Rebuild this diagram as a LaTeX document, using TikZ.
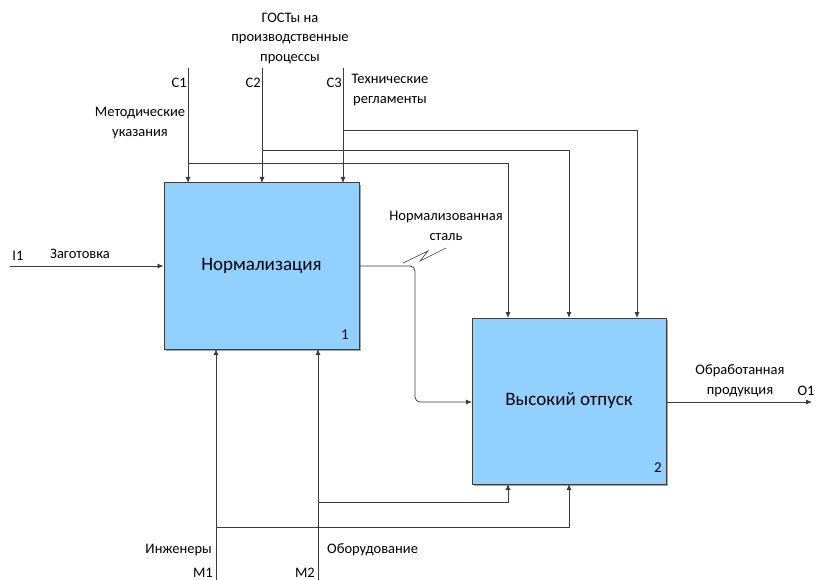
\documentclass[tikz,border=0pt]{standalone}
\usepackage{fontspec}
\setmainfont{Carlito}
\usetikzlibrary{arrows.meta}
\definecolor{boxfill}{RGB}{145,208,255}
\definecolor{linecol}{RGB}{60,60,60}
\begin{document}
\begin{tikzpicture}[x=1pt,y=-1pt,
  func/.style={draw=linecol,line width=1pt,fill=boxfill,minimum width=195pt,minimum height=166pt,inner sep=0pt,font=\fontsize{19}{21}\selectfont},
  conn/.style={draw=linecol,line width=0.8pt},
  arr/.style={conn,-{Latex[length=6pt,width=5pt]}},
  lbl/.style={font=\fontsize{14.5}{19.5}\selectfont,inner sep=0pt,align=center},
  num/.style={font=\fontsize{15}{16}\selectfont,inner sep=0pt}]
\useasboundingbox (0,0) rectangle (816,580);
% shadows
\fill[black!35] (166,185) rectangle (361,351);
\fill[black!35] (474,320) rectangle (668,486);
\node[func] (b1) at (261.5,266) {Нормализация};
\node[func,minimum width=194pt] (b2) at (569,401) {Высокий отпуск};
\node[num] (n1) at (345,335) {1};
\node[num] (n2) at (658,468) {2};
% controls
\coordinate (c1) at (188,68);
\coordinate (c2) at (262,68);
\coordinate (c3) at (343,68);
\draw[arr] (c1) -- (188,183);
\draw[arr] (c2) -- (262,183);
\draw[arr] (c3) -- (343,183);
\draw[arr] (188,163) -| (508,318);
\draw[arr] (262,150) -| (569,318);
\draw[arr] (343,130) -| (637,318);
% input
\coordinate (i1) at (10,266);
\draw[arr] (i1) -- (b1.west);
% internal
\draw[arr,rounded corners=5pt] (b1.east) -- (415,266) -- (415,402) -- (472,402);
\draw[conn,line width=0.6pt] (403,263) -- (428,251) -- (420,261) -- (446,248);
% output
\coordinate (o1) at (812,402);
\draw[arr] (666,402) -- (o1);
% mechanisms
\coordinate (m1) at (216,580);
\coordinate (m2) at (318,580);
\draw[arr] (m1) -- (216,349);
\draw[arr] (m2) -- (318,349);
\draw[arr] (216,527) -| (569,484);
\draw[arr] (318,502) -| (508,484);
% labels
\node[lbl] (t1) at (290,38) {ГОСТы на\\производственные\\процессы};
\node[lbl] (t2) at (390,90) {Технические\\регламенты};
\node[lbl] (t3) at (140,123) {Методические\\указания};
\node[lbl,anchor=east] (lc1) at (187,83) {C1};
\node[lbl,anchor=east] (lc2) at (261,83) {C2};
\node[lbl,anchor=east] (lc3) at (342,83) {C3};
\node[lbl] (li1) at (18,256) {I1};
\node[lbl] (li) at (80,254) {Заготовка};
\node[lbl] (ln) at (446,226) {Нормализованная\\сталь};
\node[lbl] (lo) at (740,381) {Обработанная\\продукция};
\node[lbl] (lo1) at (806,391) {O1};
\node[lbl,anchor=east] (lm) at (212,550) {Инженеры};
\node[lbl,anchor=east] (lm1) at (213,573) {M1};
\node[lbl,anchor=west] (le) at (327,550) {Оборудование};
\node[lbl,anchor=east] (lm2) at (315,573) {M2};
\end{tikzpicture}
\end{document}
